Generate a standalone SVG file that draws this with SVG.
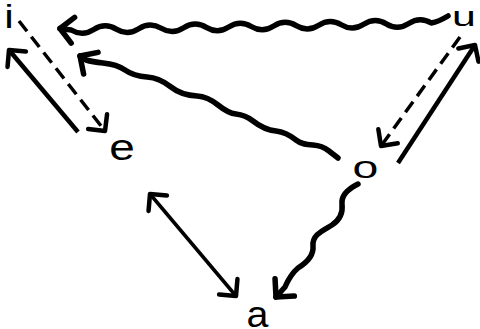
<svg xmlns="http://www.w3.org/2000/svg" width="480" height="329" viewBox="0 0 480 329">
<style>
.lbl{font-family:"Liberation Sans",Arial,Helvetica,sans-serif;fill:#000}
.wave{fill:none;stroke:#000;stroke-width:5.5;stroke-linecap:round;stroke-linejoin:round}
.solid{fill:none;stroke:#000;stroke-width:4.5;stroke-linecap:butt}
.thin{fill:none;stroke:#000;stroke-width:3.5;stroke-linecap:butt}
.dash{fill:none;stroke:#000;stroke-width:3.5;stroke-dasharray:13 7;stroke-linecap:butt}
</style>
<defs>
<marker id="ah" markerUnits="userSpaceOnUse" viewBox="-20 -20 40 40" markerWidth="40" markerHeight="40" refX="0" refY="0" orient="auto-start-reverse" overflow="visible">
<path d="M-13,-13 L0,0 L-13,13" fill="none" stroke="#000" stroke-width="5.5" stroke-linejoin="round" stroke-linecap="round"/>
</marker>
<marker id="ahs" markerUnits="userSpaceOnUse" viewBox="-20 -20 40 40" markerWidth="40" markerHeight="40" refX="0" refY="0" orient="auto-start-reverse" overflow="visible">
<path d="M-12,-12 L0,0 L-12,12" fill="none" stroke="#000" stroke-width="4.5" stroke-linejoin="round" stroke-linecap="round"/>
</marker>
</defs>
<g id="connectors">
<path class="wave" marker-start="url(#ah)" d="M60,28.5 L71.25,30 Q82.5,36.8 93.75,29.56 T116.25,29.13 T138.75,28.69 T161.25,28.25 T183.75,27.81 T206.25,27.38 T228.75,26.94 T251.25,26.5 T273.75,26.06 T296.25,25.63 T318.75,25.19 T341.25,24.75 T363.75,24.31 T386.25,23.88 T408.75,23.44 T431.25,23 C437,22 443,19 448,16"/>
<path class="wave" marker-start="url(#ah)" d="M80,56 L86,60 C91.7,61.7 97.3,62.4 103,63 C110.3,63.7 117.7,64.9 125,70 C132.3,75.1 139.7,76.6 147,77 C155,77.4 163,80.6 171,87 C179.7,93.9 188.3,95.6 197,96 C204,96.4 211,99.4 218,105 C224,109.8 230,113.4 236,114 C241.7,114.6 247.3,116.5 253,121 C260.7,127.1 268.3,130.2 276,131 C282.7,131.7 289.3,134.7 296,140 C301.7,144.5 307.3,144.7 313,145 C318.3,145.3 323.7,146.7 329,151 C332,153.4 335,155.6 338,158"/>
<path class="wave" marker-end="url(#ah)" d="M358,184 C348,189 341,195 342,204 C343,212 341,219 332,225 C322,231 312,235 313,246 C314,256 306,263 298,268 C292,273 288,280 285,287 L276,297"/>
<path class="dash" marker-end="url(#ahs)" d="M19,21 L105,131"/>
<path class="dash" marker-end="url(#ahs)" d="M460,37 L381,146"/>
<path class="solid" marker-end="url(#ahs)" d="M78,132 L9,50"/>
<path class="solid" marker-end="url(#ahs)" d="M398,163 L475,45"/>
<path class="thin" marker-start="url(#ahs)" marker-end="url(#ahs)" d="M150,194 L236,296"/>
</g>
<g id="node-i"><text class="lbl" font-size="33" transform="translate(4.2,27.5) scale(1.3,1)">i</text></g>
<g id="node-u"><text class="lbl" font-size="28.2" transform="translate(452.1,26.4) scale(1.52,1)">u</text></g>
<g id="node-e"><text class="lbl" font-size="36.5" transform="translate(109.3,159.6) scale(1.26,1)">e</text></g>
<g id="node-o"><text class="lbl" font-size="32" transform="translate(352.5,177.9) scale(1.45,1)">o</text></g>
<g id="node-a"><text class="lbl" font-size="36.5" transform="translate(246.6,326.6) scale(1.08,1)">a</text></g>
</svg>
